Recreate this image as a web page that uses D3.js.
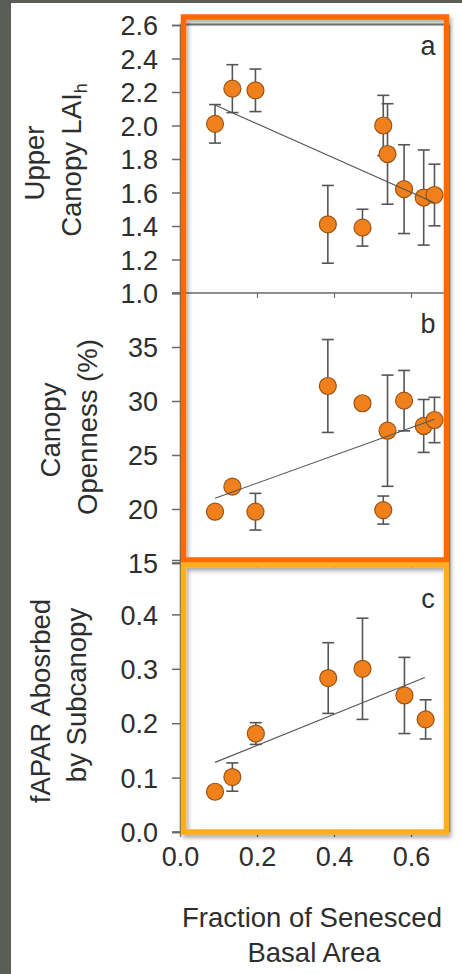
<!DOCTYPE html>
<html><head><meta charset="utf-8">
<script src="https://cdn.jsdelivr.net/npm/d3@7/dist/d3.min.js"></script>
<style>html,body{margin:0;padding:0;background:#5a5e57;}svg{display:block;}</style>
</head><body>
<script>
// ---- data ----
const sitesAB = [0.091, 0.136, 0.196, 0.384, 0.474, 0.528, 0.539, 0.582, 0.633, 0.661];
const laiMean = [2.01, 2.22, 2.21, 1.41, 1.39, 2.00, 1.83, 1.62, 1.57, 1.585];
const laiErr  = [0.115, 0.143, 0.127, 0.232, 0.11, 0.18, 0.30, 0.265, 0.284, 0.184];
const openMean = [19.75, 22.07, 19.75, 31.39, 29.79, 19.9, 27.25, 30.03, 27.69, 28.24];
const openErr  = [0.3, 0.4, 1.7, 4.3, 0.4, 1.3, 5.15, 2.8, 2.45, 2.1];
const sitesC = [0.091, 0.136, 0.197, 0.385, 0.474, 0.583, 0.638];
const faparMean = [0.074, 0.101, 0.181, 0.283, 0.300, 0.251, 0.207];
const faparErr  = [0.01, 0.026, 0.02, 0.065, 0.093, 0.07, 0.036];
const trendA = [[0.091, 2.122], [0.661, 1.539]];
const trendB = [[0.091, 20.99], [0.661, 28.32]];
const trendC = [[0.091, 0.128], [0.636, 0.284]];
const xTicks = [0.0, 0.2, 0.4, 0.6];
const yTicksA = [1.0, 1.2, 1.4, 1.6, 1.8, 2.0, 2.2, 2.4, 2.6];
const yTicksB = [15, 20, 25, 30, 35];
const yTicksC = [0.0, 0.1, 0.2, 0.3, 0.4];
const panelLetters = ["a", "b", "c"];

const W = 462, H = 974;
const svg = d3.select("body").append("svg").attr("width", W).attr("height", H);
const defs = svg.append("defs");
const f = defs.append("filter").attr("id", "sh").attr("x", "-10%").attr("y", "-10%").attr("width", "130%").attr("height", "130%");
f.append("feDropShadow").attr("dx", 2).attr("dy", 3).attr("stdDeviation", 2).attr("flood-color", "#000").attr("flood-opacity", 0.35);

svg.append("rect").attr("x", 0).attr("y", 0).attr("width", W).attr("height", H).attr("fill", "#5a5e57");
svg.append("rect").attr("x", 11).attr("y", 3).attr("width", W - 11).attr("height", H - 3).attr("fill", "#fff");

const FONT = "'Liberation Sans', Arial, sans-serif";
const TXT = "#2e2e2e";
const AX = "#6a6a6a";
const TICKFS = 27, TITLEFS = 27.5;

const x = d3.scaleLinear().domain([0, 0.7]).range([180, 449.5]);
const panels = [
  {y: d3.scaleLinear().domain([1.0, 2.6]).range([293, 25]), ticks: yTicksA, fmt: d3.format(".1f"),
   xs: sitesAB, m: laiMean, e: laiErr, trend: trendA, top: 25, bottom: 293},
  {y: d3.scaleLinear().domain([15, 40]).range([563, 293]), ticks: yTicksB, fmt: d3.format("d"),
   xs: sitesAB, m: openMean, e: openErr, trend: trendB, top: 293, bottom: 563},
  {y: d3.scaleLinear().domain([0, 0.5]).range([832, 560]), ticks: yTicksC, fmt: d3.format(".1f"),
   xs: sitesC, m: faparMean, e: faparErr, trend: trendC, top: 563, bottom: 832}
];

// frame lines
svg.append("line").attr("x1", 180).attr("x2", 449.5).attr("y1", 24.5).attr("y2", 24.5).attr("stroke", "#777").attr("stroke-width", 2);

panels.forEach((p, i) => {
  const ya = d3.axisLeft(p.y).tickValues(p.ticks).tickFormat(p.fmt).tickSize(8).tickPadding(14);
  const g = svg.append("g").attr("transform", "translate(180,0)").call(ya);
  g.select(".domain").attr("stroke", AX).attr("stroke-width", 1.5);
  g.selectAll(".tick line").attr("stroke", AX).attr("stroke-width", 1.5);
  g.selectAll(".tick text").attr("font-family", FONT).attr("font-size", TICKFS).attr("fill", TXT).attr("dy", "0.36em");
  const xa = d3.axisBottom(x).tickValues(xTicks).tickSize(5).tickPadding(10).tickFormat(d3.format(".1f"));
  const gx = svg.append("g").attr("transform", `translate(0,${p.bottom})`).call(xa);
  gx.select(".domain").attr("stroke", AX).attr("stroke-width", 1.5).attr("d", `M172,0H449.5`);
  gx.selectAll(".tick line").attr("stroke", AX).attr("stroke-width", 1.2);
  gx.selectAll(".tick text").attr("font-family", FONT).attr("font-size", TICKFS).attr("fill", TXT)
    .style("display", i === 2 ? null : "none");
  svg.append("line").attr("x1", 449.5).attr("x2", 449.5).attr("y1", p.top).attr("y2", p.bottom).attr("stroke", "#888").attr("stroke-width", 1.5);
});

// borders
svg.append("rect").attr("x", 183.5).attr("y", 17).attr("width", 263).attr("height", 543)
  .attr("fill", "none").attr("stroke", "#ff6a06").attr("stroke-width", 5.5).attr("filter", "url(#sh)");
svg.append("rect").attr("x", 183.5).attr("y", 565).attr("width", 263).attr("height", 267)
  .attr("fill", "none").attr("stroke", "#ffae1f").attr("stroke-width", 5.5).attr("filter", "url(#sh)");

// data marks
panels.forEach((p) => {
  const g = svg.append("g");
  const d = p.xs.map((xv, k) => ({x: xv, m: p.m[k], e: p.e[k]}));
  const eb = g.selectAll(".eb").data(d).join("g");
  eb.append("line").attr("x1", q => x(q.x)).attr("x2", q => x(q.x))
    .attr("y1", q => p.y(q.m + q.e)).attr("y2", q => p.y(q.m - q.e))
    .attr("stroke", "#555").attr("stroke-width", 1.6);
  [1, -1].forEach(s => {
    eb.append("line").attr("x1", q => x(q.x) - 6).attr("x2", q => x(q.x) + 6)
      .attr("y1", q => p.y(q.m + s * q.e)).attr("y2", q => p.y(q.m + s * q.e))
      .attr("stroke", "#555").attr("stroke-width", 1.6);
  });
  g.selectAll("circle").data(d).join("circle")
    .attr("cx", q => x(q.x)).attr("cy", q => p.y(q.m)).attr("r", 8.5)
    .attr("fill", "#f0801c").attr("stroke", "#9a5215").attr("stroke-width", 1.2);
  g.append("path").attr("d", d3.line().x(q => x(q[0])).y(q => p.y(q[1]))(p.trend))
    .attr("stroke", "#555").attr("stroke-width", 1.1).attr("fill", "none");
});

// panel letters
[55, 333, 608].forEach((yy, i) => {
  svg.append("text").attr("x", 428).attr("y", yy).attr("text-anchor", "middle")
    .attr("font-family", FONT).attr("font-size", TICKFS).attr("fill", TXT).text(panelLetters[i]);
});

// y titles
function ytitle(xb, yc, parts) {
  const t = svg.append("text").attr("transform", `translate(${xb},${yc}) rotate(-90)`)
    .attr("text-anchor", "middle").attr("font-family", FONT).attr("font-size", TITLEFS).attr("fill", TXT);
  parts.forEach(pt => {
    const s = t.append("tspan").text(pt.t);
    if (pt.sub) s.attr("font-size", 18).attr("dy", 6);
  });
}
ytitle(44, 163, [{t: "Upper"}]);
ytitle(81, 160, [{t: "Canopy LAI"}, {t: "h", sub: true}]);
ytitle(60, 430, [{t: "Canopy"}]);
ytitle(97, 427, [{t: "Openness (%)"}]);
ytitle(50, 701, [{t: "fAPAR Abosrbed"}]);
ytitle(86, 695, [{t: "by Subcanopy"}]);

// x title
svg.append("text").attr("x", 312).attr("y", 927).attr("text-anchor", "middle")
  .attr("font-family", FONT).attr("font-size", TITLEFS).attr("fill", TXT).text("Fraction of Senesced");
svg.append("text").attr("x", 314).attr("y", 962).attr("text-anchor", "middle")
  .attr("font-family", FONT).attr("font-size", TITLEFS).attr("fill", TXT).text("Basal Area");
</script>
</body></html>
